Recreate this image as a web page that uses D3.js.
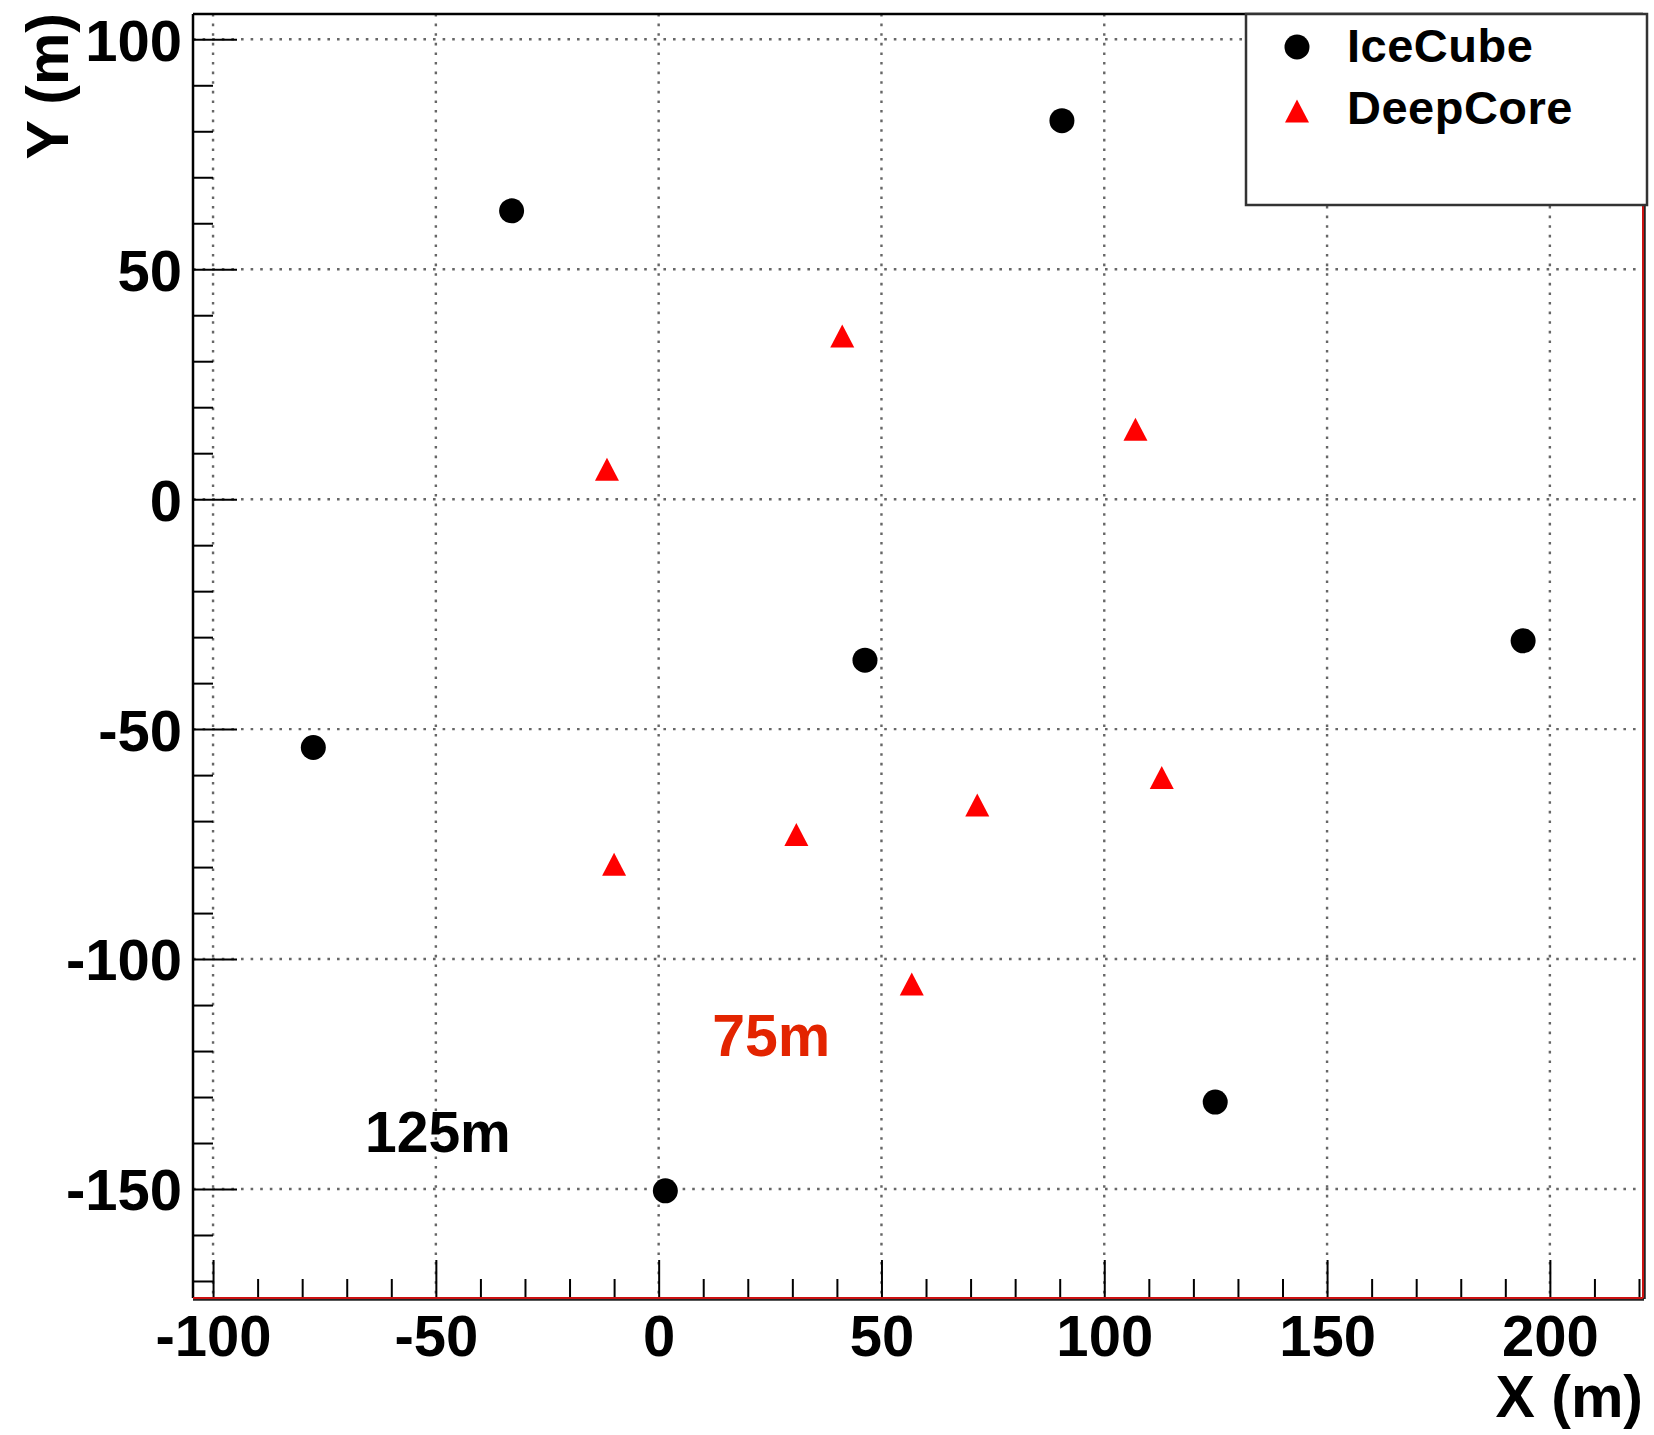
<!DOCTYPE html>
<html><head><meta charset="utf-8">
<script src="https://cdn.jsdelivr.net/npm/d3@7"></script>
<style>html,body{margin:0;padding:0;background:#fff}svg{display:block}</style>
</head><body>
<script>
// ---- data ----
const seriesNames = ["IceCube", "DeepCore"];
const iceCubeX = [-33.0, 90.5, -77.5, 46.3, 194.0, 124.9, 1.5];
const iceCubeY = [62.7, 82.3, -54.0, -35.0, -30.8, -131.1, -150.4];
const deepCoreX = [41.2, -11.6, 107.0, 112.9, 71.5, 30.9, -10.0, 56.8];
const deepCoreY = [35.5, 6.5, 15.2, -60.5, -66.5, -72.9, -79.4, -105.4];
const xMajorTicks = [-100, -50, 0, 50, 100, 150, 200];
const yMajorTicks = [-150, -100, -50, 0, 50, 100];
const xDomain = [-104.5, 220.9];
const yDomain = [-173.7, 105.5];
const annotationText = ["75m", "125m"];
const annotationX = [12.0, -65.9];
const annotationY = [-121.0, -142.0];
const annotationColor = ["#e32400", "#000000"];
const xTitle = "X (m)";
const yTitle = "Y (m)";

// ---- layout ----
const W = 1654, H = 1435;
const L = 193, R = 1643, T = 14, B = 1298;
const FONT = "'Liberation Sans', Arial, Helvetica, sans-serif";

const x = d3.scaleLinear().domain(xDomain).range([L, R]);
const y = d3.scaleLinear().domain(yDomain).range([B, T]);

const svg = d3.select("body").append("svg").attr("width", W).attr("height", H)
  .style("font-family", FONT).style("font-weight", "bold");

// grid
const grid = svg.append("g").attr("stroke", "#666").attr("stroke-width", 2.4)
  .attr("stroke-dasharray", "2.6,7").attr("fill", "none");
grid.selectAll("line.v").data(xMajorTicks).join("line").attr("class", "v")
  .attr("x1", d => x(d)).attr("x2", d => x(d)).attr("y1", T).attr("y2", B);
grid.selectAll("line.h").data(yMajorTicks).join("line").attr("class", "h")
  .attr("x1", L).attr("x2", R).attr("y1", d => y(d)).attr("y2", d => y(d));

// minor ticks
const xMinor = d3.range(-100, 221, 10).filter(v => !xMajorTicks.includes(v) && v >= xDomain[0] && v <= xDomain[1]);
const yMinor = d3.range(-170, 106, 10).filter(v => !yMajorTicks.includes(v) && v >= yDomain[0] && v <= yDomain[1]);

const xAxisMinor = d3.axisBottom(x).tickValues(xMinor).tickSize(-19).tickFormat("");
const yAxisMinor = d3.axisLeft(y).tickValues(yMinor).tickSize(-20).tickFormat("");
svg.append("g").attr("transform", `translate(0,${B})`).call(xAxisMinor)
  .call(g => g.select(".domain").remove())
  .call(g => g.selectAll("line").attr("stroke", "#000").attr("stroke-width", 2));
svg.append("g").attr("transform", `translate(${L},0)`).call(yAxisMinor)
  .call(g => g.select(".domain").remove())
  .call(g => g.selectAll("line").attr("stroke", "#000").attr("stroke-width", 2));

// major axes
const xAxis = d3.axisBottom(x).tickValues(xMajorTicks).tickSize(-38).tickPadding(15).tickFormat(d => String(d));
const yAxis = d3.axisLeft(y).tickValues(yMajorTicks).tickSize(-44).tickPadding(11).tickFormat(d => String(d));
svg.append("g").attr("transform", `translate(0,${B})`).call(xAxis)
  .call(g => g.select(".domain").remove())
  .call(g => g.selectAll("line").attr("stroke", "#000").attr("stroke-width", 2))
  .call(g => g.selectAll("text").attr("fill", "#000").style("font-size", "58px")
    .style("font-family", FONT).style("font-weight", "bold").attr("dy", "0.74em"));
svg.append("g").attr("transform", `translate(${L},0)`).call(yAxis)
  .call(g => g.select(".domain").remove())
  .call(g => g.selectAll("line").attr("stroke", "#000").attr("stroke-width", 2))
  .call(g => g.selectAll("text").attr("fill", "#000").style("font-size", "58px")
    .style("font-family", FONT).style("font-weight", "bold").attr("dy", "0.36em"));

// frame
svg.append("line").attr("x1", L).attr("x2", R).attr("y1", T).attr("y2", T).attr("stroke", "#000").attr("stroke-width", 2.5);
svg.append("line").attr("x1", L).attr("x2", L).attr("y1", T).attr("y2", B).attr("stroke", "#000").attr("stroke-width", 2.5);
svg.append("line").attr("x1", L).attr("x2", R + 1).attr("y1", B + 1).attr("y2", B + 1).attr("stroke", "#222").attr("stroke-width", 3.5);
svg.append("line").attr("x1", R + 1).attr("x2", R + 1).attr("y1", T).attr("y2", B + 1).attr("stroke", "#222").attr("stroke-width", 3.5);
svg.append("line").attr("x1", L).attr("x2", R).attr("y1", B).attr("y2", B).attr("stroke", "#cc1111").attr("stroke-width", 2);
svg.append("line").attr("x1", R).attr("x2", R).attr("y1", T).attr("y2", B).attr("stroke", "#cc1111").attr("stroke-width", 2);

// markers
const triPath = "M0,-11.5L12,11.5L-12,11.5Z";
const ice = iceCubeX.map((v, i) => ({ x: v, y: iceCubeY[i] }));
const deep = deepCoreX.map((v, i) => ({ x: v, y: deepCoreY[i] }));
svg.append("g").selectAll("circle").data(ice).join("circle")
  .attr("cx", d => x(d.x)).attr("cy", d => y(d.y)).attr("r", 12.5).attr("fill", "#000");
svg.append("g").selectAll("path").data(deep).join("path")
  .attr("d", triPath).attr("transform", d => `translate(${x(d.x)},${y(d.y)})`).attr("fill", "#ff0000");

// annotations
svg.append("g").selectAll("text").data(annotationText).join("text")
  .attr("x", (d, i) => x(annotationX[i])).attr("y", (d, i) => y(annotationY[i]))
  .attr("fill", (d, i) => annotationColor[i]).style("font-size", (d, i) => i === 0 ? "59px" : "57px")
  .text(d => d);

// axis titles
svg.append("text").attr("x", R).attr("y", 1417).attr("text-anchor", "end")
  .style("font-size", "59px").attr("fill", "#000").text(xTitle);
svg.append("text").attr("transform", "translate(68,13) rotate(-90)").attr("text-anchor", "end")
  .style("font-size", "59px").attr("fill", "#000").text(yTitle);

// legend
const lg = svg.append("g");
lg.append("rect").attr("x", 1246).attr("y", 14).attr("width", 401).attr("height", 191)
  .attr("fill", "#fff").attr("stroke", "#333").attr("stroke-width", 2.5);
lg.append("circle").attr("cx", 1297).attr("cy", 47).attr("r", 12.5).attr("fill", "#000");
lg.append("path").attr("d", triPath).attr("transform", "translate(1297,111)").attr("fill", "#ff0000");
lg.selectAll("text").data(seriesNames).join("text")
  .attr("x", 1347).attr("y", (d, i) => i === 0 ? 62 : 124)
  .style("font-size", "47px").style("letter-spacing", "0.5px").attr("fill", "#000").text(d => d);
</script>
</body></html>
